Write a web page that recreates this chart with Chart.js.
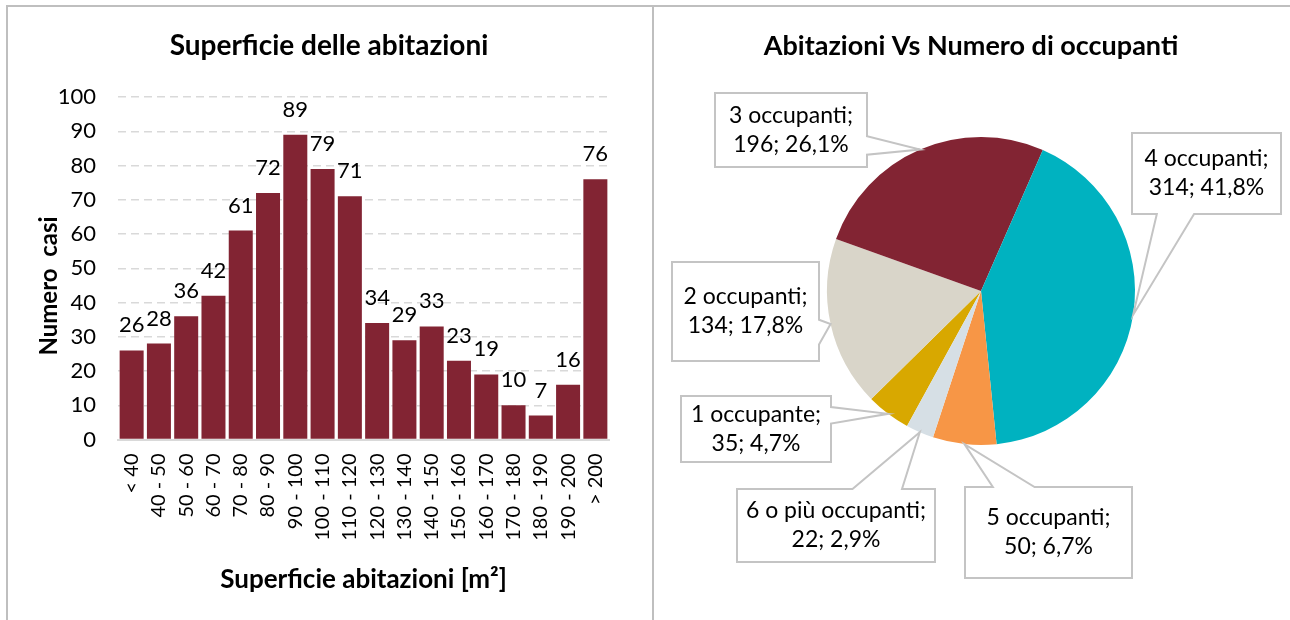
<!DOCTYPE html>
<html lang="it">
<head>
<meta charset="utf-8">
<title>Abitazioni</title>
<script src="https://cdn.jsdelivr.net/npm/chart.js@4.4.1/dist/chart.umd.min.js"></script>
<style>
  html, body { margin: 0; padding: 0; background: #fff; }
  body { width: 1290px; height: 620px; position: relative; overflow: hidden; }
  #cornice { position: absolute; left: 6px; top: 5px; width: 1300px; height: 700px; border: 2px solid #bfbfbf; box-sizing: border-box; }
  #divisore { position: absolute; left: 652px; top: 5px; width: 2px; height: 620px; background: #bfbfbf; }
  #graficoSuperficie { position: absolute; left: 8px; top: 7px; }
  #graficoOccupanti { position: absolute; left: 654px; top: 7px; }
</style>
</head>
<body>
<div id="cornice"></div>
<div id="divisore"></div>
<canvas id="graficoSuperficie" width="644" height="613"></canvas>
<canvas id="graficoOccupanti" width="636" height="613"></canvas>

<script>
// --- dati ---
const classiSuperficie = ['< 40', '40 - 50', '50 - 60', '60 - 70', '70 - 80', '80 - 90', '90 - 100',
  '100 - 110', '110 - 120', '120 - 130', '130 - 140', '140 - 150', '150 - 160', '160 - 170',
  '170 - 180', '180 - 190', '190 - 200', '> 200'];
const casiSuperficie = [26, 28, 36, 42, 61, 72, 89, 79, 71, 34, 29, 33, 23, 19, 10, 7, 16, 76];
const tickCasi = [0, 10, 20, 30, 40, 50, 60, 70, 80, 90, 100];

const classiOccupanti = ['1 occupante', '2 occupanti', '3 occupanti', '4 occupanti', '5 occupanti', '6 o più occupanti'];
const abitazioniOccupanti = [35, 134, 196, 314, 50, 22];
const coloriOccupanti = ['#D8A800', '#D9D5C9', '#822433', '#00B2C0', '#F79646', '#D6DFE5'];

// riquadri delle etichette (posizione rispetto al centro della torta, dimensioni)
const riquadriOccupanti = [
  { dx: -225, dy: 138, w: 150, h: 66 },
  { dx: -235.5, dy: 20.5, w: 147, h: 99 },
  { dx: -190, dy: -161, w: 152, h: 74 },
  { dx: 225.5, dy: -117.5, w: 149, h: 81 },
  { dx: 67.5, dy: 241.5, w: 167, h: 91 },
  { dx: -145, dy: 234.5, w: 198, h: 73 }
];

Chart.defaults.font.family = 'Lato, "Open Sans", sans-serif';
Chart.defaults.color = '#000';

// testi liberi (titoli) disegnati sul canvas
const testiLiberi = {
  id: 'testiLiberi',
  afterDraw(chart, args, opts) {
    const ctx = chart.ctx;
    (opts.voci || []).forEach(v => {
      ctx.save();
      ctx.translate(v.x, v.y);
      if (v.rot) ctx.rotate(v.rot);
      ctx.font = v.font;
      ctx.fillStyle = '#000';
      ctx.textAlign = 'center';
      ctx.textBaseline = 'alphabetic';
      ctx.fillText(v.testo, 0, 0);
      ctx.restore();
    });
  }
};

// valori sopra le barre
const etichetteBarre = {
  id: 'etichetteBarre',
  afterDatasetsDraw(chart, args, opts) {
    const ctx = chart.ctx;
    const valori = chart.data.datasets[0].data;
    ctx.save();
    ctx.font = opts.font;
    ctx.fillStyle = '#000';
    ctx.textAlign = 'center';
    ctx.textBaseline = 'alphabetic';
    chart.getDatasetMeta(0).data.forEach((barra, i) => {
      ctx.fillText(String(valori[i]), barra.x, barra.y - opts.distanza);
    });
    ctx.restore();
  }
};

// etichette a fumetto della torta
function fraz(coord, centro) {
  return coord < centro ? [1 / 6, 5 / 12] : [7 / 12, 5 / 6];
}

function tracciaFumetto(ctx, b, p) {
  const L = b.x - b.w / 2, R = b.x + b.w / 2, T = b.y - b.h / 2, B = b.y + b.h / 2;
  const nx = (p.x - b.x) / b.w, ny = (p.y - b.y) / b.h;
  let lato;
  if (Math.abs(nx) <= 0.5 && Math.abs(ny) <= 0.5) lato = null;
  else if (Math.abs(nx) > Math.abs(ny)) lato = nx > 0 ? 'dx' : 'sx';
  else lato = ny > 0 ? 'basso' : 'alto';

  ctx.beginPath();
  ctx.moveTo(L, T);
  if (lato === 'alto') {
    const f = fraz(p.x, b.x);
    ctx.lineTo(L + f[0] * b.w, T); ctx.lineTo(p.x, p.y); ctx.lineTo(L + f[1] * b.w, T);
  }
  ctx.lineTo(R, T);
  if (lato === 'dx') {
    const f = fraz(p.y, b.y);
    ctx.lineTo(R, T + f[0] * b.h); ctx.lineTo(p.x, p.y); ctx.lineTo(R, T + f[1] * b.h);
  }
  ctx.lineTo(R, B);
  if (lato === 'basso') {
    const f = fraz(p.x, b.x);
    ctx.lineTo(L + f[1] * b.w, B); ctx.lineTo(p.x, p.y); ctx.lineTo(L + f[0] * b.w, B);
  }
  ctx.lineTo(L, B);
  if (lato === 'sx') {
    const f = fraz(p.y, b.y);
    ctx.lineTo(L, T + f[1] * b.h); ctx.lineTo(p.x, p.y); ctx.lineTo(L, T + f[0] * b.h);
  }
  ctx.closePath();
}

const fumettiTorta = {
  id: 'fumettiTorta',
  afterDatasetsDraw(chart, args, opts) {
    const ctx = chart.ctx;
    const valori = chart.data.datasets[0].data;
    const totale = valori.reduce((a, b) => a + b, 0);
    ctx.save();
    chart.getDatasetMeta(0).data.forEach((arco, i) => {
      const r = riquadriOccupanti[i];
      const medio = (arco.startAngle + arco.endAngle) / 2;
      const punta = { x: arco.x + Math.cos(medio) * arco.outerRadius, y: arco.y + Math.sin(medio) * arco.outerRadius };
      const box = { x: arco.x + r.dx, y: arco.y + r.dy, w: r.w, h: r.h };
      tracciaFumetto(ctx, box, punta);
      ctx.fillStyle = '#fff';
      ctx.fill();
      ctx.lineWidth = 2;
      ctx.strokeStyle = '#C4C4C4';
      ctx.lineJoin = 'miter';
      ctx.stroke();

      const perc = (valori[i] / totale * 100).toFixed(1).replace('.', ',');
      ctx.fillStyle = '#000';
      ctx.font = opts.font;
      ctx.textAlign = 'center';
      ctx.textBaseline = 'middle';
      ctx.fillText(chart.data.labels[i] + ';', box.x, box.y - opts.interlinea / 2);
      ctx.fillText(valori[i] + '; ' + perc + '%', box.x, box.y + opts.interlinea / 2);
    });
    ctx.restore();
  }
};

// --- istogramma superficie ---
new Chart(document.getElementById('graficoSuperficie'), {
  type: 'bar',
  data: {
    labels: classiSuperficie,
    datasets: [{
      data: casiSuperficie,
      backgroundColor: '#822433',
      barPercentage: 0.88,
      categoryPercentage: 1.0
    }]
  },
  plugins: [etichetteBarre, testiLiberi],
  options: {
    responsive: false,
    animation: false,
    layout: { padding: { left: 0, right: 43, top: 90, bottom: 0 } },
    plugins: {
      legend: { display: false },
      tooltip: { enabled: false },
      etichetteBarre: { font: '22px Lato', distanza: 18 },
      testiLiberi: {
        voci: [
          { testo: 'Superficie delle abitazioni', x: 321, y: 48, font: 'bold 28px Lato' },
          { testo: 'Numero  casi', x: 49, y: 279, rot: -Math.PI / 2, font: 'bold 24px Lato' }
        ]
      }
    },
    scales: {
      x: {
        grid: { display: false, drawTicks: false },
        border: { display: true, color: '#D9D9D9', width: 2 },
        ticks: {
          autoSkip: false, minRotation: 90, maxRotation: 90, padding: 14,
          font: { size: 20 }, color: '#000'
        },
        title: {
          display: true, text: 'Superficie abitazioni [m²]',
          font: { size: 26, weight: 'bold' }, color: '#000',
          padding: { top: 0, bottom: 25 }
        },
        afterFit: s => { s.height = 180.5; }
      },
      y: {
        min: 0, max: 100,
        afterBuildTicks: s => { s.ticks = tickCasi.map(v => ({ value: v })); },
        grid: { color: '#D9D9D9', lineWidth: 1.5, drawTicks: false },
        border: { display: false, dash: [8, 5] },
        ticks: { padding: 22, font: { size: 22 }, color: '#000' },
        afterFit: s => { s.width = 110; }
      }
    }
  }
});

// --- torta occupanti ---
new Chart(document.getElementById('graficoOccupanti'), {
  type: 'pie',
  data: {
    labels: classiOccupanti,
    datasets: [{
      data: abitazioniOccupanti,
      backgroundColor: coloriOccupanti,
      borderWidth: 0,
      hoverOffset: 0
    }]
  },
  plugins: [fumettiTorta, testiLiberi],
  options: {
    responsive: false,
    animation: false,
    rotation: 208.7,
    layout: { padding: { left: 173, right: 155, top: 130, bottom: 175 } },
    plugins: {
      legend: { display: false },
      tooltip: { enabled: false },
      fumettiTorta: { font: '23px Lato', interlinea: 29 },
      testiLiberi: {
        voci: [
          { testo: 'Abitazioni Vs Numero di occupanti', x: 317, y: 48, font: 'bold 27px Lato' }
        ]
      }
    }
  }
});
</script>
</body>
</html>
